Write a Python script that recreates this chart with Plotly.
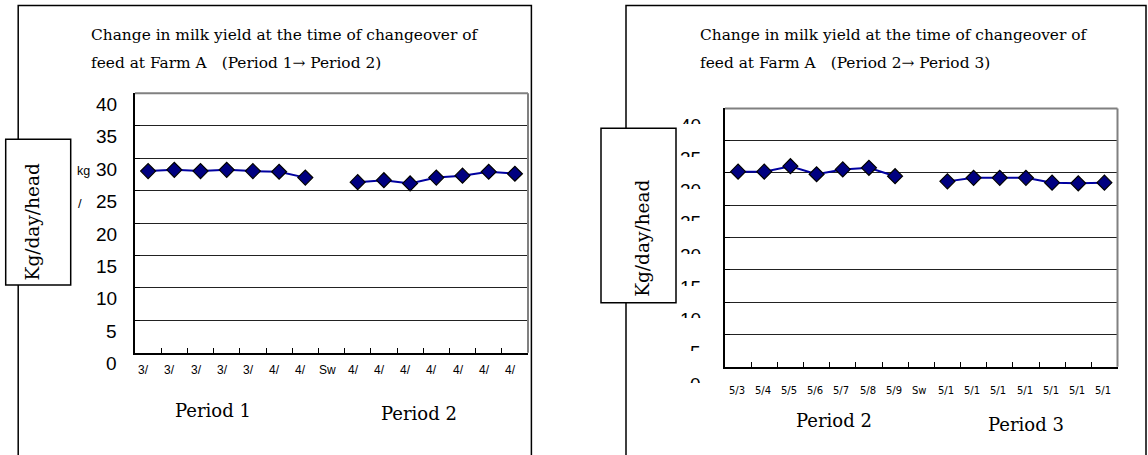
import plotly.graph_objects as go

W, H = 1148, 455

# ---------------- data ----------------
left_labels = ["3/", "3/", "3/", "3/", "3/", "4/", "4/", "Sw", "4/", "4/", "4/", "4/", "4/", "4/", "4/"]
left_values = [28.0, 28.2, 28.0, 28.2, 28.0, 27.9, 27.0, None, 26.3, 26.6, 26.1, 27.0, 27.3, 27.9, 27.6]

right_labels = ["5/3", "5/4", "5/5", "5/6", "5/7", "5/8", "5/9", "Sw", "5/1", "5/1", "5/1", "5/1", "5/1", "5/1", "5/1"]
right_values = [30.2, 30.2, 31.05, 29.8, 30.55, 30.8, 29.5, None, 28.7, 29.25, 29.25, 29.25, 28.5, 28.4, 28.5]

y_ticks = [0, 5, 10, 15, 20, 25, 30, 35, 40]
y_title = "Kg/day/head"
left_title = ["Change in milk yield at the time of changeover of",
              "feed at Farm A\u3000(Period 1\u2192 Period 2)"]
right_title = ["Change in milk yield at the time of changeover of",
               "feed at Farm A\u3000(Period 2\u2192 Period 3)"]
left_periods = ["Period 1", "Period 2"]
right_periods = ["Period 2", "Period 3"]


def px(x):
    return x / W


def py(y):
    return 1 - y / H


SERIF = "DejaVu Serif"
SANS = "Liberation Sans, Arial"
LINE_COL = "#0000a0"
MARK_COL = "#000080"

fig = go.Figure()

fig.add_trace(go.Scatter(
    x=list(range(len(left_labels))), y=left_values, mode="lines+markers", xaxis="x", yaxis="y",
    line=dict(color=LINE_COL, width=2), connectgaps=False,
    marker=dict(symbol="diamond", size=11.5, color=MARK_COL, line=dict(color="black", width=1.2)),
    showlegend=False, hoverinfo="skip"))
fig.add_trace(go.Scatter(
    x=list(range(len(right_labels))), y=right_values, mode="lines+markers", xaxis="x2", yaxis="y2",
    line=dict(color=LINE_COL, width=2), connectgaps=False,
    marker=dict(symbol="diamond", size=11.5, color=MARK_COL, line=dict(color="black", width=1.2)),
    showlegend=False, hoverinfo="skip"))

n = len(left_labels)
bounds = [i - 0.5 for i in range(n + 1)]

xcommon = dict(range=[-0.5, n - 0.5], showgrid=False, zeroline=False, showline=True,
               linecolor="black", linewidth=2, ticks="inside", ticklen=5, tickwidth=1.2,
               tickcolor="black", tickvals=bounds, showticklabels=False, fixedrange=True)
ycommon = dict(range=[0, 40], showgrid=True, gridcolor="#222222", gridwidth=1, zeroline=False,
               showline=True, linecolor="black", linewidth=2, ticks="inside", ticklen=5,
               tickwidth=1.2, tickcolor="black", tickvals=y_ticks, showticklabels=False,
               fixedrange=True)

fig.update_layout(
    width=W, height=H, margin=dict(l=0, r=0, t=0, b=0),
    paper_bgcolor="white", plot_bgcolor="white", showlegend=False,
    xaxis=dict(domain=[px(135), px(528)], anchor="y", **xcommon),
    yaxis=dict(domain=[py(352.7), py(93.3)], anchor="x", **ycommon),
    xaxis2=dict(domain=[px(725), px(1117.5)], anchor="y2", **xcommon),
    yaxis2=dict(domain=[py(366.7), py(108.4)], anchor="x2", **ycommon),
)

shapes = []
# outer frames (open at bottom)
for x0, x1 in [(18.2, 531.4), (626, 1146)]:
    shapes.append(dict(type="path", xref="paper", yref="paper",
                       path=f"M {px(x0)},{py(480)} L {px(x0)},{py(5.4)} L {px(x1)},{py(5.4)} L {px(x1)},{py(480)}",
                       line=dict(color="black", width=1.5), layer="below"))
# gray top/right plot borders
for xr, yr in [("x", "y"), ("x2", "y2")]:
    shapes.append(dict(type="line", xref=f"{xr} domain", yref=f"{yr} domain", x0=0, x1=1, y0=1, y1=1,
                       line=dict(color="#808080", width=2), layer="above"))
    shapes.append(dict(type="line", xref=f"{xr} domain", yref=f"{yr} domain", x0=1, x1=1, y0=0, y1=1,
                       line=dict(color="#808080", width=2), layer="above"))
# y-title boxes
for (x0, x1, y0, y1) in [(5.7, 70.7, 139.3, 285), (601, 676, 128.3, 302.7)]:
    shapes.append(dict(type="rect", xref="paper", yref="paper", x0=px(x0), x1=px(x1), y0=py(y1), y1=py(y0),
                       fillcolor="white", line=dict(color="black", width=1.5), layer="above"))
fig.update_layout(shapes=shapes)

ann = []
# titles
for lines, xl in [(left_title, 89.3), (right_title, 697.8)]:
    for line, yc in zip(lines, [35, 63.3]):
        ann.append(dict(text=line, xref="paper", yref="paper", x=px(xl), y=py(yc),
                        xanchor="left", yanchor="middle", showarrow=False,
                        font=dict(family=SERIF, size=15.4, color="black")))
# y titles in boxes
for xc, yc in [(32.4, 222), (642.5, 238.3)]:
    ann.append(dict(text=y_title, xref="paper", yref="paper", x=px(xc), y=py(yc), textangle=-90,
                    xanchor="center", yanchor="middle", showarrow=False,
                    font=dict(family=SERIF, size=18.5, color="black")))
# left y tick labels (shifted down like the source)
for v in y_ticks:
    ann.append(dict(text=str(v), xref="paper", yref="y", x=px(119), y=v, yshift=-11,
                    xanchor="right", yanchor="middle", showarrow=False,
                    font=dict(family=SANS, size=19, color="black")))
# right y tick labels (clipped: only the top part shows)
for v in y_ticks:
    ann.append(dict(text=str(v), xref="paper", yref="y2", x=px(702.7), y=v, yshift=-5.1,
                    xanchor="right", yanchor="top", valign="top", height=9, showarrow=False,
                    font=dict(family=SANS, size=19, color="black")))
# kg / unit
ann.append(dict(text="kg", xref="paper", yref="paper", x=px(83), y=py(170.7), showarrow=False,
                xanchor="center", yanchor="middle", font=dict(family=SANS, size=12.5, color="black")))
ann.append(dict(text="/", xref="paper", yref="paper", x=px(80), y=py(204), showarrow=False,
                xanchor="center", yanchor="middle", font=dict(family=SANS, size=13, color="black")))
# x labels
for i, lab in enumerate(left_labels):
    ann.append(dict(text=lab, xref="x", yref="paper", x=i, y=py(370), xshift=-4.5,
                    xanchor="center", yanchor="middle", showarrow=False,
                    font=dict(family=SANS, size=12, color="black")))
for i, lab in enumerate(right_labels):
    ann.append(dict(text=lab, xref="x2", yref="paper", x=i, y=py(390.7), xshift=-1.4,
                    xanchor="center", yanchor="middle", showarrow=False,
                    font=dict(family="DejaVu Sans", size=10, color="black")))
# period labels
for txt, xc, yc in [(left_periods[0], 212.5, 410), (left_periods[1], 418.6, 413.3),
                    (right_periods[0], 833.6, 420), (right_periods[1], 1025.7, 424)]:
    ann.append(dict(text=txt, xref="paper", yref="paper", x=px(xc), y=py(yc),
                    xanchor="center", yanchor="middle", showarrow=False,
                    font=dict(family=SERIF, size=18, color="black")))
fig.update_layout(annotations=ann)

fig.write_html("out.html", config={"displayModeBar": False})
